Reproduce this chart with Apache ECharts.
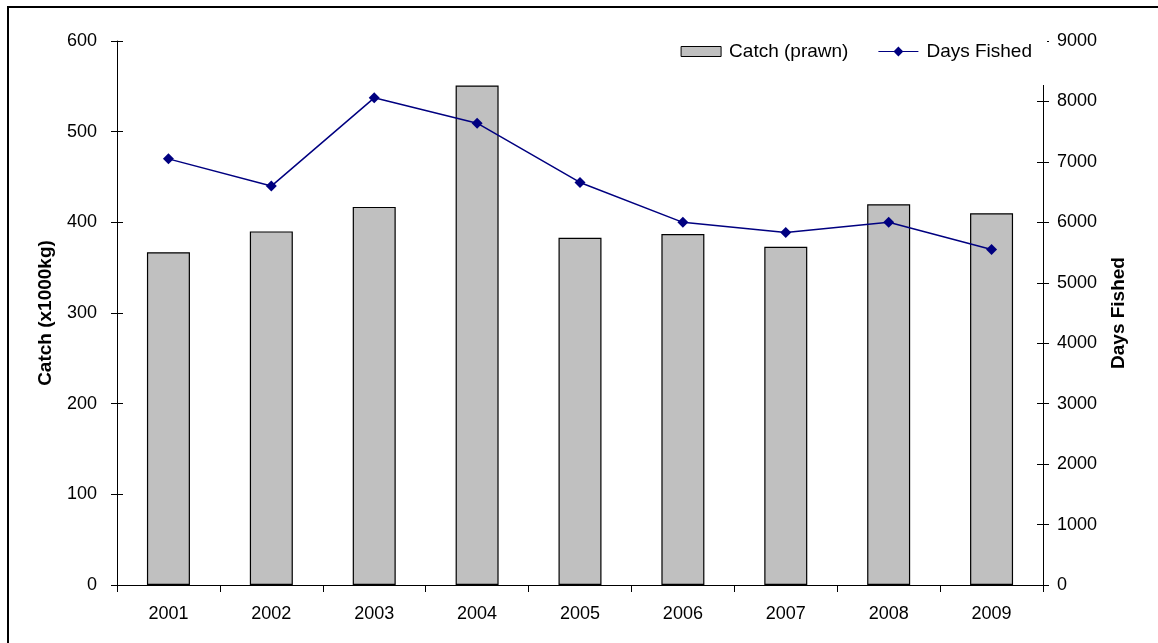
<!DOCTYPE html>
<html>
<head>
<meta charset="utf-8">
<title>Prawn catch and days fished, 2001–2009</title>
<script src="https://cdn.jsdelivr.net/npm/echarts@6/dist/echarts.min.js"></script>
<style>
  html, body { margin: 0; padding: 0; background: #fff; }
  #chart { width: 1158px; height: 643px; }
</style>
</head>
<body>
<div id="chart"></div>
<script>
// Annual prawn catch (x1000 kg) and fishing effort (days fished)
const years = ['2001', '2002', '2003', '2004', '2005', '2006', '2007', '2008', '2009'];
const catchPrawn = [367, 390, 417, 551, 383, 387, 373, 420, 410];
const daysFished = [7050, 6600, 8060, 7640, 6660, 6000, 5830, 6000, 5550];

const FONT = '"Liberation Sans", Arial, sans-serif';
const INK = '#000';
const NAVY = '#000080';
const BAR_GREY = '#C0C0C0';

const chart = echarts.init(document.getElementById('chart'), null, { renderer: 'canvas' });

// tick marks cross the axis line: an outward tick on the labelled axis
// plus an inward tick on an unlabelled twin axis
function twinAxis(position, max, interval) {
  return {
    type: 'value', position: position, min: 0, max: max, interval: interval,
    axisLine: { show: false },
    axisTick: { show: true, inside: true, length: 6, lineStyle: { color: INK, width: 1 } },
    axisLabel: { show: false },
    splitLine: { show: false }
  };
}

// legend key for the line series: a short line with a diamond in the middle
const lineKey = 'path://M0,4.4L15.6,4.4L20,0L24.4,4.4L40,4.4L40,5.6L24.4,5.6L20,10L15.6,5.6L0,5.6Z';

chart.setOption({
  animation: false,
  backgroundColor: '#fff',
  textStyle: { fontFamily: FONT, color: INK },
  grid: { left: 117, right: 115, top: 41, bottom: 58, containLabel: false },
  legend: {
    right: 111, top: 22,
    padding: [20, 15, 24, 11],
    backgroundColor: '#fff',
    itemWidth: 40, itemHeight: 10, itemGap: 30,
    textStyle: { fontFamily: FONT, fontSize: 19, color: INK, padding: [0, 0, 0, 3] },
    data: [
      { name: 'Catch (prawn)', icon: 'rect', itemStyle: { color: BAR_GREY, borderColor: INK, borderWidth: 1 } },
      { name: 'Days Fished', icon: lineKey, itemStyle: { color: NAVY, borderWidth: 0 } }
    ]
  },
  xAxis: {
    type: 'category', data: years, boundaryGap: true,
    axisLine: { show: true, lineStyle: { color: INK, width: 1 } },
    axisTick: { show: true, length: 7, interval: 0, lineStyle: { color: INK, width: 1 } },
    axisLabel: { fontFamily: FONT, fontSize: 18, color: INK, margin: 20, interval: 0 },
    splitLine: { show: false }
  },
  yAxis: [
    {
      type: 'value', position: 'left', min: 0, max: 600, interval: 100,
      name: 'Catch (x1000kg)', nameLocation: 'middle', nameGap: 62, nameRotate: 90,
      nameTextStyle: { fontFamily: FONT, fontSize: 19, fontWeight: 'bold', color: INK },
      axisLine: { show: true, lineStyle: { color: INK, width: 1 } },
      axisTick: { show: true, length: 6, lineStyle: { color: INK, width: 1 } },
      axisLabel: { fontFamily: FONT, fontSize: 18, color: INK, margin: 20 },
      splitLine: { show: false }
    },
    {
      type: 'value', position: 'right', min: 0, max: 9000, interval: 1000,
      name: 'Days Fished', nameLocation: 'middle', nameGap: 66, nameRotate: 90,
      nameTextStyle: { fontFamily: FONT, fontSize: 19, fontWeight: 'bold', color: INK },
      axisLine: { show: true, lineStyle: { color: INK, width: 1 } },
      axisTick: { show: true, length: 6, lineStyle: { color: INK, width: 1 } },
      axisLabel: { fontFamily: FONT, fontSize: 18, color: INK, margin: 14, formatter: v => String(v) },
      splitLine: { show: false }
    },
    twinAxis('left', 600, 100),
    twinAxis('right', 9000, 1000)
  ],
  series: [
    {
      name: 'Catch (prawn)', type: 'bar', yAxisIndex: 0,
      data: catchPrawn, barWidth: 43,
      itemStyle: { color: BAR_GREY, borderColor: INK, borderWidth: 1.2 },
      z: 2
    },
    {
      name: 'Days Fished', type: 'line', yAxisIndex: 1,
      data: daysFished,
      symbol: 'diamond', symbolSize: 11, showSymbol: true,
      lineStyle: { color: NAVY, width: 1.5 },
      itemStyle: { color: NAVY },
      z: 3
    }
  ],
  graphic: [
    {
      type: 'rect', silent: true, z: 100,
      shape: { x: 8, y: 7, width: 1200, height: 700 },
      style: { fill: null, stroke: INK, lineWidth: 2 }
    }
  ]
});
</script>
</body>
</html>
